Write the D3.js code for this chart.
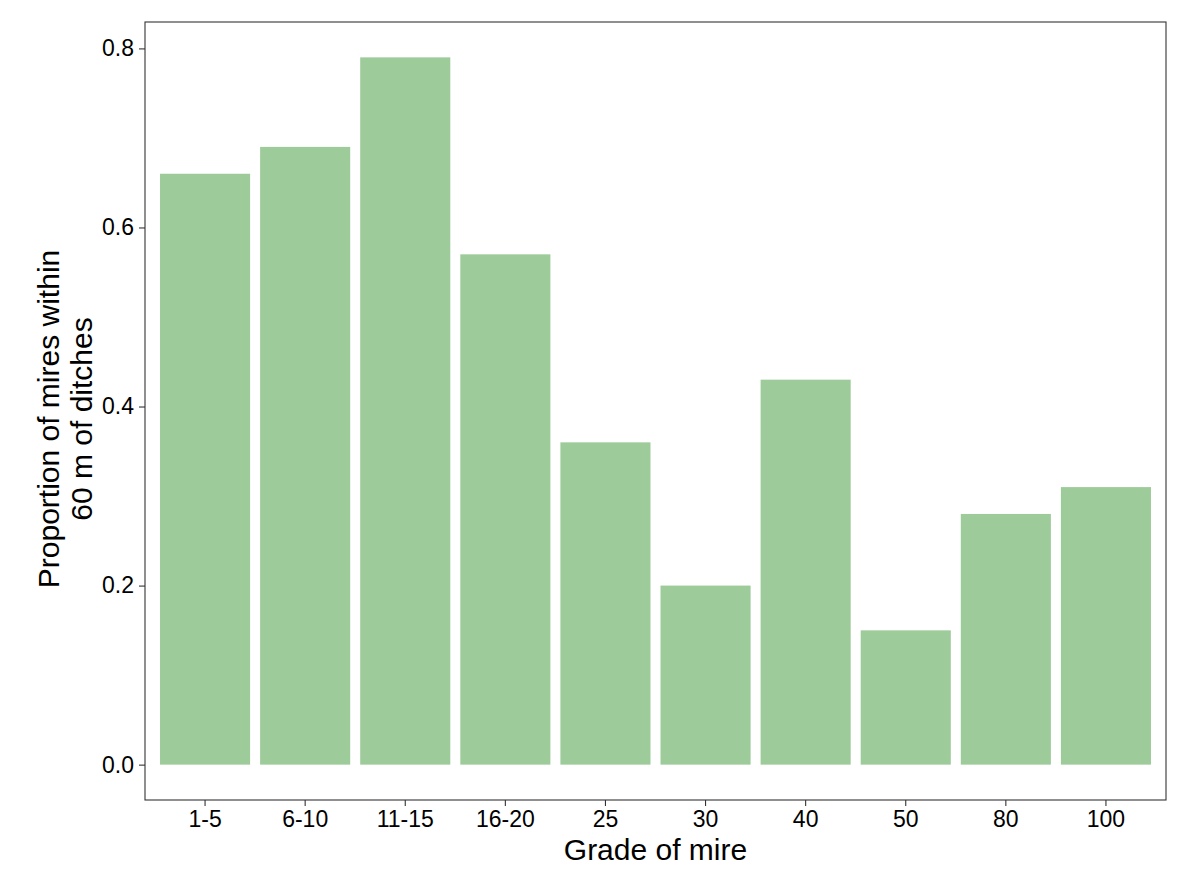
<!DOCTYPE html>
<html>
<head>
<meta charset="utf-8">
<script src="https://cdn.jsdelivr.net/npm/d3@7"></script>
<style>
  body { margin: 0; background: #fff; }
  svg text { font-family: "Liberation Sans", Arial, sans-serif; }
</style>
</head>
<body>
<div id="chart"></div>
<script>
// Proportion of mires within 60 m of ditches, by grade of mire

const grades = ["1-5", "6-10", "11-15", "16-20", "25", "30", "40", "50", "80", "100"];
const proportions = [0.66, 0.69, 0.79, 0.57, 0.36, 0.20, 0.43, 0.15, 0.28, 0.31];
const yTicks = [0.0, 0.2, 0.4, 0.6, 0.8];

(function() {
    const W = 1200, H = 884;
    const panel = {left: 145, right: 1166, top: 22, bottom: 800};

    const svg = d3.select("#chart")
        .append("svg")
        .attr("width", W)
        .attr("height", H);

    // X scale: ggplot-like 0.6 unit expansion, bar width 0.9
    const x = d3.scaleBand()
        .domain(grades)
        .range([panel.left, panel.right])
        .paddingInner(0.1)
        .paddingOuter(0.15);

    // Y scale with 5% expansion
    const yMax = d3.max(proportions);
    const y = d3.scaleLinear()
        .domain([-0.05 * yMax, yMax * 1.05])
        .range([panel.bottom, panel.top]);

    // Bars
    svg.selectAll("rect.bar")
        .data(grades.map((g, i) => ({grade: g, value: proportions[i]})))
        .enter()
        .append("rect")
        .attr("class", "bar")
        .attr("x", d => x(d.grade))
        .attr("y", d => y(d.value))
        .attr("width", x.bandwidth())
        .attr("height", d => y(0) - y(d.value))
        .attr("fill", "#9dcc9a");

    // Panel border
    svg.append("rect")
        .attr("x", panel.left)
        .attr("y", panel.top)
        .attr("width", panel.right - panel.left)
        .attr("height", panel.bottom - panel.top)
        .attr("fill", "none")
        .attr("stroke", "#333333")
        .attr("stroke-width", 1.1);

    // Y axis
    const yAxis = svg.append("g")
        .attr("transform", `translate(${panel.left},0)`)
        .call(d3.axisLeft(y).tickValues(yTicks).tickFormat(d3.format(".1f")).tickSize(6).tickPadding(5));
    yAxis.select(".domain").remove();
    yAxis.selectAll(".tick line").attr("stroke", "#333333").attr("stroke-width", 1.1);
    yAxis.selectAll(".tick text").attr("font-size", 23).attr("fill", "#000");

    // X axis
    const xAxis = svg.append("g")
        .attr("transform", `translate(0,${panel.bottom})`)
        .call(d3.axisBottom(x).tickSize(6).tickPadding(5));
    xAxis.select(".domain").remove();
    xAxis.selectAll(".tick line").attr("stroke", "#333333").attr("stroke-width", 1.1);
    xAxis.selectAll(".tick text").attr("font-size", 23).attr("fill", "#000");

    // Axis titles
    svg.append("text")
        .attr("x", (panel.left + panel.right) / 2)
        .attr("y", 860)
        .attr("text-anchor", "middle")
        .attr("font-size", 30)
        .text("Grade of mire");

    const yTitle = svg.append("text")
        .attr("transform", `translate(59,${(panel.top + panel.bottom) / 2 + 8}) rotate(-90)`)
        .attr("text-anchor", "middle")
        .attr("font-size", 30);
    yTitle.append("tspan").attr("x", 0).attr("dy", 0).text("Proportion of mires within");
    yTitle.append("tspan").attr("x", 0).attr("dy", 33).text("60 m of ditches");
})();
</script>
</body>
</html>
